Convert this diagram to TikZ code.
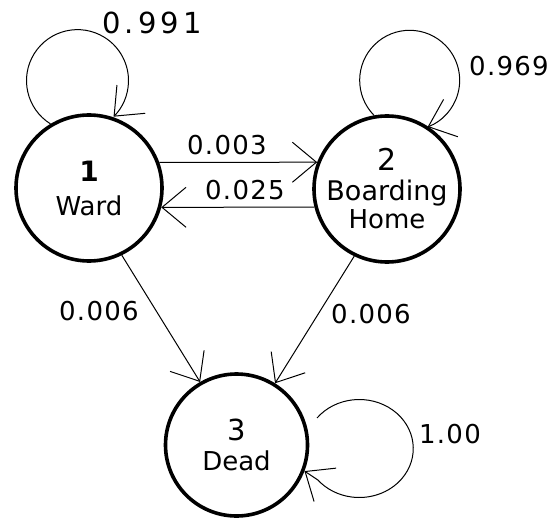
\documentclass[tikz,border=0pt]{standalone}
\usepackage{fontspec}
\setmainfont{DejaVu Sans}
\newfontfamily\lblfont[LetterSpace=5]{DejaVu Sans}
\newfontfamily\lblbigfont[LetterSpace=14]{DejaVu Sans}
\usetikzlibrary{arrows.meta}
\begin{document}
\begin{tikzpicture}[x=1pt,y=1pt,
  statenode/.style={circle, draw, line width=3.6pt, inner sep=0pt, minimum size=146pt,
    align=center, font=\fontsize{26}{28}\selectfont},
  arr/.style={line width=1pt, -{Straight Barb[length=24pt,width=40pt,line width=1pt]}},
  lbl/.style={inner sep=0pt, font=\lblfont\fontsize{26}{26}\selectfont},
  lblbig/.style={inner sep=0pt, font=\lblbigfont\fontsize{29}{29}\selectfont}
]
\useasboundingbox (0,0) rectangle (553,520);

\node[statenode] (n1) at (89,332) {{\fontsize{28}{28}\selectfont\bfseries 1}\\[6pt]Ward};
\node[statenode] (n2) at (387,331) {{\fontsize{30}{30}\selectfont 2}\\[2pt]{\fontsize{27}{28}\selectfont Boarding}\\Home};
\node[statenode, minimum size=142pt] (n3) at (236.5,75) {{\fontsize{29}{29}\selectfont 3}\\[2pt]Dead};

% straight transitions
\draw[arr] (n1.20) -- (n2.159);
\draw[arr] (n2.194) -- (n1.-15);
\draw[arr] (n1.-64) -- (n3.120);
\draw[arr] (n2.244) -- (n3.58);

% self loops
\draw[arr] (n1.121) arc[start angle=238, end angle=-45, radius=51];
\draw[arr] (n2.100) arc[start angle=224.5, end angle=-69, radius=50];
\coordinate (l3) at (317,102);
\draw[arr] (l3) arc[start angle=141.5, end angle=-140, x radius=54, y radius=49] -- (n3.-21);

% labels
\node[lblbig] (p11) at (152,497) {0.991};
\node[lbl] (p22) at (509,454) {0.969};
\node[lbl] (p12) at (227,375) {0.003};
\node[lbl] (p21) at (245,330) {0.025};
\node[lbl] (p13) at (99,209) {0.006};
\node[lbl] (p23) at (371,206) {0.006};
\node[lbl] (p33) at (450,86) {1.00};
\end{tikzpicture}
\end{document}
